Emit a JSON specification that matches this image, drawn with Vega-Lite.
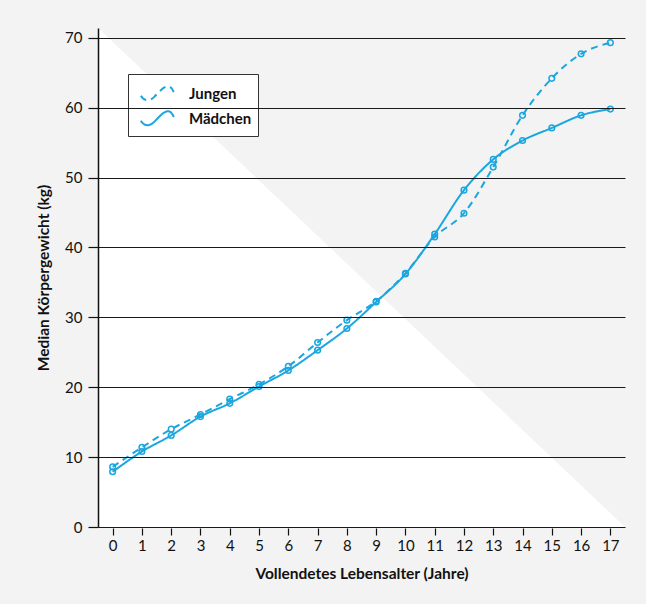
{
  "$schema": "https://vega.github.io/schema/vega-lite/v6.json",
  "width": 527,
  "height": 499,
  "autosize": {"type": "none"},
  "padding": {"left": 98, "top": 28, "right": 21, "bottom": 77},
  "background": "#f3f3f3",
  "config": {
    "view": {"stroke": null},
    "font": "Lato",
    "axisX": {"domain": false, "grid": false, "zindex": 1,
      "offset": 1, "tickSize": 7, "tickColor": "#111111", "tickWidth": 1.2,
      "labelFont": "Lato", "labelFontSize": 15, "labelColor": "#111111", "labelPadding": 3,
      "titleFont": "Lato", "titleFontSize": 15.5, "titleFontWeight": "bold", "titleColor": "#111111", "titlePadding": 13},
    "axisY": {"domain": true, "domainColor": "#111111", "domainWidth": 1.5, "zindex": 1,
      "grid": true, "gridColor": "#1a1a1a", "gridWidth": 1.2, "gridOpacity": 1,
      "tickSize": 10, "tickColor": "#111111", "tickWidth": 1.2,
      "labelFont": "Lato", "labelFontSize": 15, "labelColor": "#111111", "labelPadding": 6,
      "titleFont": "Lato", "titleFontSize": 15.5, "titleFontWeight": "bold", "titleColor": "#111111", "titlePadding": 13}
  },
  "layer": [
    {
      "data": {"values": [{"alter": -0.5, "gewicht": 71.4}, {"alter": 17.5, "gewicht": 0}]},
      "mark": {"type": "area", "color": "#ffffff", "opacity": 1},
      "encoding": {
        "x": {"field": "alter", "type": "quantitative", "scale": {"domain": [-0.5, 17.5], "nice": false, "zero": false},
          "title": "Vollendetes Lebensalter (Jahre)",
          "axis": {"values": [0,1,2,3,4,5,6,7,8,9,10,11,12,13,14,15,16,17], "zindex": 1}},
        "y": {"field": "gewicht", "type": "quantitative", "scale": {"domain": [0, 71.4], "nice": false, "zero": false},
          "title": "Median Körpergewicht (kg)",
          "axis": {"values": [0,10,20,30,40,50,60,70], "zindex": 1}}
      }
    },
    {
      "data": {"name": "werte", "values": [
        {"alter": 0, "geschlecht": "Jungen", "gewicht": 8.6},
        {"alter": 1, "geschlecht": "Jungen", "gewicht": 11.4},
        {"alter": 2, "geschlecht": "Jungen", "gewicht": 14.0},
        {"alter": 3, "geschlecht": "Jungen", "gewicht": 16.1},
        {"alter": 4, "geschlecht": "Jungen", "gewicht": 18.3},
        {"alter": 5, "geschlecht": "Jungen", "gewicht": 20.4},
        {"alter": 6, "geschlecht": "Jungen", "gewicht": 23.0},
        {"alter": 7, "geschlecht": "Jungen", "gewicht": 26.4},
        {"alter": 8, "geschlecht": "Jungen", "gewicht": 29.6},
        {"alter": 9, "geschlecht": "Jungen", "gewicht": 32.3},
        {"alter": 10, "geschlecht": "Jungen", "gewicht": 36.3},
        {"alter": 11, "geschlecht": "Jungen", "gewicht": 41.5},
        {"alter": 12, "geschlecht": "Jungen", "gewicht": 44.9},
        {"alter": 13, "geschlecht": "Jungen", "gewicht": 51.5},
        {"alter": 14, "geschlecht": "Jungen", "gewicht": 58.9},
        {"alter": 15, "geschlecht": "Jungen", "gewicht": 64.2},
        {"alter": 16, "geschlecht": "Jungen", "gewicht": 67.7},
        {"alter": 17, "geschlecht": "Jungen", "gewicht": 69.3},
        {"alter": 0, "geschlecht": "Mädchen", "gewicht": 7.9},
        {"alter": 1, "geschlecht": "Mädchen", "gewicht": 10.8},
        {"alter": 2, "geschlecht": "Mädchen", "gewicht": 13.1},
        {"alter": 3, "geschlecht": "Mädchen", "gewicht": 15.8},
        {"alter": 4, "geschlecht": "Mädchen", "gewicht": 17.7},
        {"alter": 5, "geschlecht": "Mädchen", "gewicht": 20.1},
        {"alter": 6, "geschlecht": "Mädchen", "gewicht": 22.4},
        {"alter": 7, "geschlecht": "Mädchen", "gewicht": 25.3},
        {"alter": 8, "geschlecht": "Mädchen", "gewicht": 28.4},
        {"alter": 9, "geschlecht": "Mädchen", "gewicht": 32.2},
        {"alter": 10, "geschlecht": "Mädchen", "gewicht": 36.2},
        {"alter": 11, "geschlecht": "Mädchen", "gewicht": 41.9},
        {"alter": 12, "geschlecht": "Mädchen", "gewicht": 48.2},
        {"alter": 13, "geschlecht": "Mädchen", "gewicht": 52.6},
        {"alter": 14, "geschlecht": "Mädchen", "gewicht": 55.3},
        {"alter": 15, "geschlecht": "Mädchen", "gewicht": 57.1},
        {"alter": 16, "geschlecht": "Mädchen", "gewicht": 58.9},
        {"alter": 17, "geschlecht": "Mädchen", "gewicht": 59.8}
      ]},
      "mark": {"type": "line", "color": "#1aa6df", "strokeWidth": 2, "interpolate": "monotone"},
      "encoding": {
        "x": {"field": "alter", "type": "quantitative", "title": "Vollendetes Lebensalter (Jahre)",
          "axis": {"values": [0,1,2,3,4,5,6,7,8,9,10,11,12,13,14,15,16,17], "zindex": 1}},
        "y": {"field": "gewicht", "type": "quantitative", "title": "Median Körpergewicht (kg)",
          "axis": {"values": [0,10,20,30,40,50,60,70], "zindex": 1}},
        "strokeDash": {"field": "geschlecht", "type": "nominal",
          "scale": {"domain": ["Jungen", "Mädchen"], "range": [[7, 5], [1, 0]]},
          "legend": {"title": null, "orient": "none", "legendX": 30, "legendY": 46,
            "fillColor": "#ffffff", "strokeColor": "#333333", "padding": 6, "rowPadding": 0,
            "symbolType": "M-0.55,0.13 C-0.3,0.55 0.1,0.6 0.5,0.2 C0.9,-0.2 1.2,-0.6 1.55,-0.6 C1.75,-0.6 1.9,-0.35 1.98,-0.15",
            "symbolSize": 676, "symbolStrokeWidth": 2, "symbolStrokeColor": "#1aa6df", "symbolFillColor": "transparent",
            "labelFont": "Lato", "labelFontSize": 15, "labelFontWeight": "bold", "labelColor": "#111111", "labelOffset": 27}}
      }
    },
    {
      "data": {"name": "werte"},
      "mark": {"type": "point", "shape": "circle", "filled": false, "color": "#1aa6df", "size": 32, "strokeWidth": 1.5, "opacity": 1},
      "encoding": {
        "x": {"field": "alter", "type": "quantitative", "title": "Vollendetes Lebensalter (Jahre)",
          "axis": {"values": [0,1,2,3,4,5,6,7,8,9,10,11,12,13,14,15,16,17], "zindex": 1}},
        "y": {"field": "gewicht", "type": "quantitative", "title": "Median Körpergewicht (kg)",
          "axis": {"values": [0,10,20,30,40,50,60,70], "zindex": 1}},
        "detail": {"field": "geschlecht"}
      }
    }
  ]
}
